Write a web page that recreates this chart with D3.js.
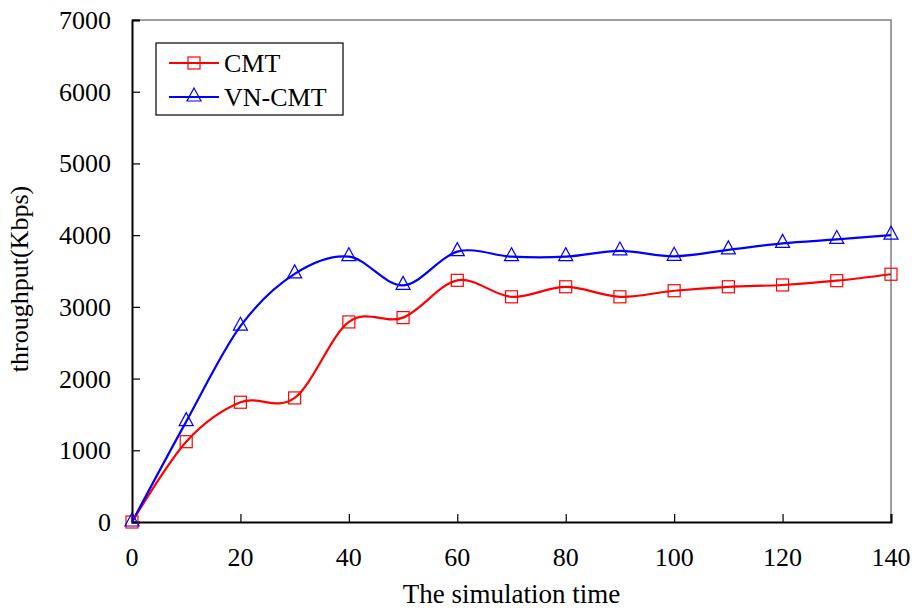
<!DOCTYPE html>
<html>
<head>
<meta charset="utf-8">
<script src="https://cdn.jsdelivr.net/npm/d3@7"></script>
<style>
  body { margin: 0; background: #fff; }
</style>
</head>
<body>
<div id="chart"></div>
<script>
var times   = [0, 10, 20, 30, 40, 50, 60, 70, 80, 90, 100, 110, 120, 130, 140];
var cmt     = [0, 1120, 1670, 1730, 2790, 2850, 3370, 3140, 3280, 3140, 3225, 3280, 3305, 3365, 3455];
var vncmt   = [0, 1400, 2730, 3460, 3700, 3300, 3770, 3700, 3700, 3780, 3705, 3795, 3885, 3940, 4000];
var xTicks  = [0, 20, 40, 60, 80, 100, 120, 140];
var yTicks  = [0, 1000, 2000, 3000, 4000, 5000, 6000, 7000];
var seriesNames = ['CMT', 'VN-CMT'];

var W = 914, H = 610;
var m = {left: 132, right: 23, top: 20, bottom: 88};
var FONT = 'Liberation Serif';

var svg = d3.select('#chart')
            .append('svg')
            .attr('width', W)
            .attr('height', H)
            .attr('font-family', FONT);

var x = d3.scaleLinear().domain([0, 140]).range([m.left, W - m.right]);
var y = d3.scaleLinear().domain([0, 7000]).range([H - m.bottom, m.top]);

// plot frame: gray top / right
svg.append('path')
   .attr('d', 'M' + x(0) + ',' + y(7000) + 'H' + x(140) + 'V' + y(0))
   .attr('fill', 'none')
   .attr('stroke', '#808080')
   .attr('stroke-width', 1.5);

// axes, ticks pointing inward
var xAxis = svg.append('g')
   .attr('transform', 'translate(0,' + y(0) + ')')
   .call(d3.axisTop(x).tickValues(xTicks).tickSize(8).tickFormat(''));
var yAxis = svg.append('g')
   .attr('transform', 'translate(' + x(0) + ',0)')
   .call(d3.axisRight(y).tickValues(yTicks).tickSize(8).tickFormat(''));
[xAxis, yAxis].forEach(function(a){
  a.select('.domain').attr('stroke', '#000').attr('stroke-width', 2);
  a.selectAll('.tick line').attr('stroke', '#000').attr('stroke-width', 1.2);
});

var labels = svg.append('g')
   .attr('font-family', FONT)
   .style('font-family', FONT)
   .attr('font-size', 26)
   .attr('fill', '#000');

// tick labels
labels.selectAll('.xlab')
   .data(xTicks).enter()
   .append('text')
   .attr('class', 'xlab')
   .attr('x', function(d){ return x(d); })
   .attr('y', y(0) + 44)
   .attr('text-anchor', 'middle')
   .text(function(d){ return d; });

labels.selectAll('.ylab')
   .data(yTicks).enter()
   .append('text')
   .attr('class', 'ylab')
   .attr('x', x(0) - 21)
   .attr('y', function(d){ return y(d) + 9; })
   .attr('text-anchor', 'end')
   .text(function(d){ return d; });

// axis titles
labels.append('text')
   .attr('x', (x(0) + x(140)) / 2)
   .attr('y', 603)
   .attr('text-anchor', 'middle')
   .attr('font-size', 27)
   .text('The simulation time');

labels.append('text')
   .attr('transform', 'translate(28,' + 279 + ') rotate(-90)')
   .attr('text-anchor', 'middle')
   .text('throughput(Kbps)');

// lines
var line = d3.line()
   .x(function(d, i){ return x(times[i]); })
   .y(function(d){ return y(d); })
   .curve(d3.curveCardinal.tension(0));

var colors = ['#ff0000', '#0000ff'];

svg.append('path').datum(cmt)
   .attr('d', line).attr('fill', 'none')
   .attr('stroke', colors[0]).attr('stroke-width', 2.2);
svg.append('path').datum(vncmt)
   .attr('d', line).attr('fill', 'none')
   .attr('stroke', colors[1]).attr('stroke-width', 2.2);

// markers
function square(g, cx, cy){
  g.append('rect')
   .attr('x', cx - 6).attr('y', cy - 6)
   .attr('width', 12).attr('height', 12)
   .attr('fill', 'none')
   .attr('stroke', colors[0]).attr('stroke-width', 1.2);
}
function triangle(g, cx, cy){
  g.append('path')
   .attr('d', 'M' + cx + ',' + (cy - 9) + 'L' + (cx + 7) + ',' + (cy + 4) + 'L' + (cx - 7) + ',' + (cy + 4) + 'Z')
   .attr('fill', 'none')
   .attr('stroke', colors[1]).attr('stroke-width', 1.2);
}

var mk = svg.append('g');
cmt.forEach(function(d, i){ square(mk, x(times[i]), y(d)); });
vncmt.forEach(function(d, i){ triangle(mk, x(times[i]), y(d)); });

// legend
var lg = svg.append('g');
lg.append('rect')
  .attr('x', 156).attr('y', 43)
  .attr('width', 187).attr('height', 72)
  .attr('fill', '#fff')
  .attr('stroke', '#000').attr('stroke-width', 1.2);

var rows = [63, 97];
seriesNames.forEach(function(name, i){
  lg.append('line')
    .attr('x1', 169).attr('x2', 219)
    .attr('y1', rows[i]).attr('y2', rows[i])
    .attr('stroke', colors[i]).attr('stroke-width', 2.2);
  if (i === 0) square(lg, 194, rows[i]); else triangle(lg, 194, rows[i]);
  lg.append('text')
    .attr('x', 224).attr('y', rows[i] + 9)
    .attr('font-family', FONT)
    .style('font-family', FONT)
    .attr('font-size', 26)
    .text(name);
});
</script>
</body>
</html>
